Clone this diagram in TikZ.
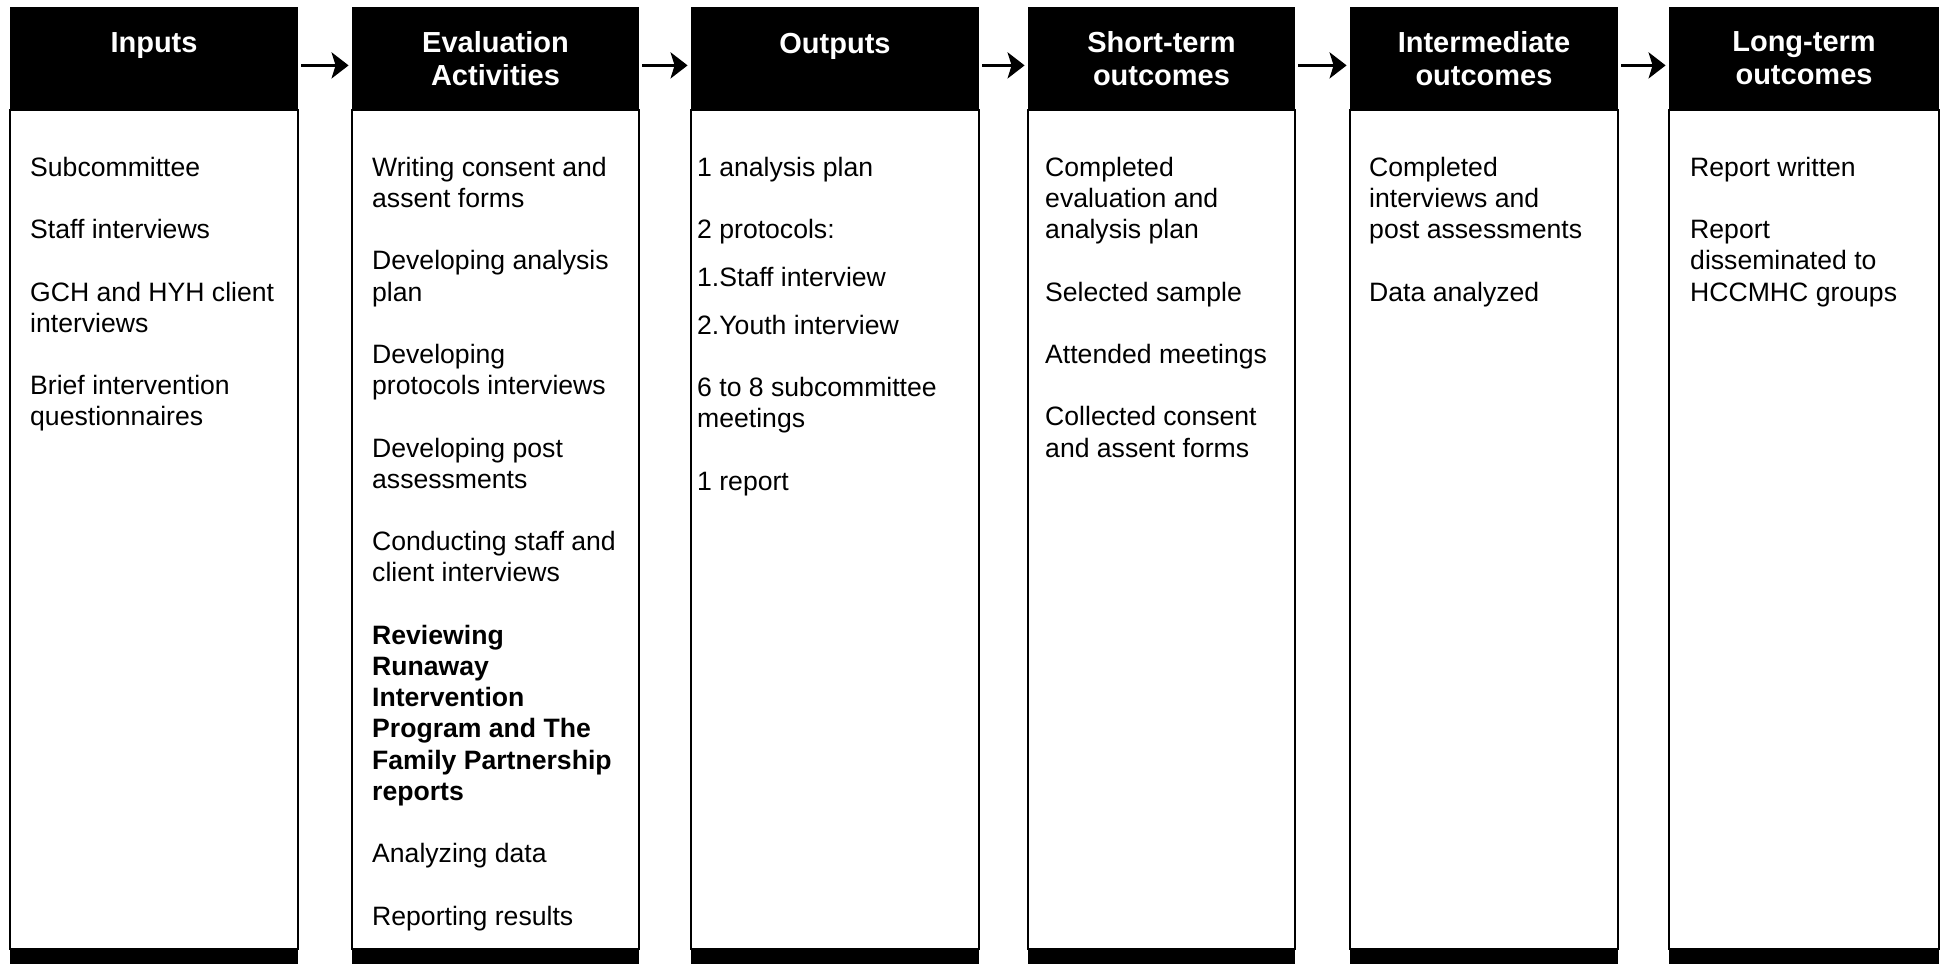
\documentclass[tikz,border=0pt]{standalone}
\usepackage{fontspec}
\setmainfont{Liberation Sans}
\usetikzlibrary{arrows.meta}

\newcommand{\gapline}{15.6pt}

\tikzset{
  colhead/.style={fill=black, inner sep=0pt, anchor=north, minimum height=51pt},
  headtext/.style={text=white, font=\bfseries\fontsize{14.5}{16.5}\selectfont, align=center, anchor=north, inner sep=0pt},
  colbody/.style={draw=black, line width=1.2pt, fill=white, inner sep=0pt, anchor=north, minimum height=419.5pt},
  colfoot/.style={fill=black, inner sep=0pt, anchor=north, minimum height=8pt},
  items/.style={font=\fontsize{13.3}{15.6}\selectfont, align=left, anchor=north west, inner sep=0pt},
  flow/.style={-{Stealth[length=8.5pt,width=13pt,inset=2pt]}, line width=1.6pt, shorten <=1.5pt, shorten >=1.5pt},
}

\begin{document}
\begin{tikzpicture}[x=0.5pt, y=-0.5pt]
\useasboundingbox (0,0) rectangle (1944,964);

% Cuerpos de las columnas
\node[colbody, minimum width=144pt]   (bInputs)     at (154,109)    {};
\node[colbody, minimum width=143.5pt] (bActivities) at (495.5,109)  {};
\node[colbody, minimum width=144pt]   (bOutputs)    at (835,109)    {};
\node[colbody, minimum width=133.5pt] (bShort)      at (1161.5,109) {};
\node[colbody, minimum width=134pt]   (bInter)      at (1484,109)   {};
\node[colbody, minimum width=135pt]   (bLong)       at (1804,109)   {};

% Barras inferiores
\node[colfoot, minimum width=144pt]   (fInputs)     at (154,948)    {};
\node[colfoot, minimum width=143.5pt] (fActivities) at (495.5,948)  {};
\node[colfoot, minimum width=144pt]   (fOutputs)    at (835,948)    {};
\node[colfoot, minimum width=133.5pt] (fShort)      at (1161.5,948) {};
\node[colfoot, minimum width=134pt]   (fInter)      at (1484,948)   {};
\node[colfoot, minimum width=135pt]   (fLong)       at (1804,948)   {};

% Encabezados
\node[colhead, minimum width=144pt]   (hInputs)     at (154,7)    {};
\node[colhead, minimum width=143.5pt] (hActivities) at (495.5,7)  {};
\node[colhead, minimum width=144pt]   (hOutputs)    at (835,7)    {};
\node[colhead, minimum width=133.5pt] (hShort)      at (1161.5,7) {};
\node[colhead, minimum width=134pt]   (hInter)      at (1484,7)   {};
\node[colhead, minimum width=135pt]   (hLong)       at (1804,7)   {};

\node[headtext] (tInputs)     at ([yshift=-12.75pt]hInputs.north)     {Inputs};
\node[headtext] (tActivities) at ([yshift=-12.25pt]hActivities.north) {Evaluation\\Activities};
\node[headtext] (tOutputs)    at ([yshift=-12.75pt]hOutputs.north)    {Outputs};
\node[headtext] (tShort)      at ([yshift=-12.25pt]hShort.north)      {Short-term\\outcomes};
\node[headtext] (tInter)      at ([yshift=-12.25pt]hInter.north)      {Intermediate\\outcomes};
\node[headtext] (tLong)       at ([yshift=-12.25pt]hLong.north)       {Long-term\\outcomes};

% Flechas
\draw[flow] ([yshift=-3.5pt]hInputs.east)     -- ([yshift=-3.5pt]hActivities.west);
\draw[flow] ([yshift=-3.5pt]hActivities.east) -- ([yshift=-3.5pt]hOutputs.west);
\draw[flow] ([yshift=-3.5pt]hOutputs.east)    -- ([yshift=-3.5pt]hShort.west);
\draw[flow] ([yshift=-3.5pt]hShort.east)      -- ([yshift=-3.5pt]hInter.west);
\draw[flow] ([yshift=-3.5pt]hInter.east)      -- ([yshift=-3.5pt]hLong.west);

% Textos
\node[items] (lInputs) at ([xshift=10.5pt, yshift=-23.8pt]bInputs.north west)
  {Subcommittee\\[\gapline]
   Staff interviews\\[\gapline]
   GCH and HYH client\\interviews\\[\gapline]
   Brief intervention\\questionnaires};

\node[items] (lActivities) at ([xshift=10.5pt, yshift=-23.8pt]bActivities.north west)
  {Writing consent and\\assent forms\\[\gapline]
   Developing analysis\\plan\\[\gapline]
   Developing\\protocols interviews\\[\gapline]
   Developing post\\assessments\\[\gapline]
   Conducting staff and\\client interviews\\[\gapline]
   \textbf{Reviewing}\\\textbf{Runaway}\\\textbf{Intervention}\\
   \textbf{Program and The}\\\textbf{Family Partnership}\\\textbf{reports}\\[\gapline]
   Analyzing data\\[\gapline]
   Reporting results};

\node[items] (lOutputs) at ([xshift=3.5pt, yshift=-23.8pt]bOutputs.north west)
  {1 analysis plan\\[\gapline]
   2 protocols:\\[8.5pt]
   1.Staff interview\\[8pt]
   2.Youth interview\\[\gapline]
   6 to 8 subcommittee\\meetings\\[\gapline]
   1 report};

\node[items] (lShort) at ([xshift=9pt, yshift=-23.8pt]bShort.north west)
  {Completed\\evaluation and\\analysis plan\\[\gapline]
   Selected sample\\[\gapline]
   Attended meetings\\[\gapline]
   Collected consent\\and assent forms};

\node[items] (lInter) at ([xshift=10pt, yshift=-23.8pt]bInter.north west)
  {Completed\\interviews and\\post assessments\\[\gapline]
   Data analyzed};

\node[items] (lLong) at ([xshift=11pt, yshift=-23.8pt]bLong.north west)
  {Report written\\[\gapline]
   Report\\disseminated to\\HCCMHC groups};
\end{tikzpicture}
\end{document}
